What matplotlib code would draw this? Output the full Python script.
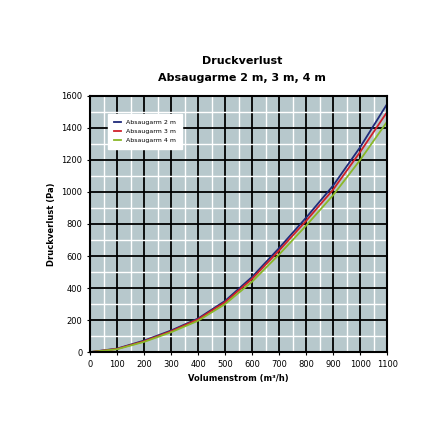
import matplotlib
matplotlib.use("Agg")
import matplotlib.pyplot as plt
from matplotlib.ticker import MultipleLocator

flow = [0, 100, 200, 300, 400, 500, 600, 700, 800, 900, 1000, 1100]
arm_2m = [0, 22, 72, 135, 210, 320, 470, 650, 840, 1040, 1280, 1550]
arm_3m = [0, 20, 68, 130, 205, 312, 458, 635, 820, 1015, 1250, 1500]
arm_4m = [0, 18, 64, 124, 196, 300, 440, 610, 790, 980, 1200, 1440]

fig = plt.figure(figsize=(4.44, 4.44), dpi=100)
ax = fig.add_axes([0.203, 0.207, 0.669, 0.577])
ax.set_facecolor("#b7c8cc")

ax.plot(flow, arm_2m, color="#1f2a7a", lw=1.3, label="Absaugarm 2 m")
ax.plot(flow, arm_3m, color="#d0202a", lw=1.3, label="Absaugarm 3 m")
ax.plot(flow, arm_4m, color="#8ab828", lw=1.3, label="Absaugarm 4 m")

ax.set_xlim(0, 1100)
ax.set_ylim(0, 1600)
ax.xaxis.set_major_locator(MultipleLocator(100))
ax.xaxis.set_minor_locator(MultipleLocator(50))
ax.yaxis.set_major_locator(MultipleLocator(200))
ax.yaxis.set_minor_locator(MultipleLocator(100))
ax.grid(True, which="minor", color="white", lw=1.0)
ax.grid(True, which="major", color="black", lw=1.3)
ax.set_axisbelow(True)
for s in ax.spines.values():
    s.set_linewidth(1.5)
ax.tick_params(labelsize=6, length=2)
ax.tick_params(which="minor", length=0)

ax.set_xlabel("Volumenstrom (m³/h)", fontsize=6, fontweight="bold")
ax.set_ylabel("Druckverlust (Pa)", fontsize=6, fontweight="bold")
fig.text(0.545, 0.855, "Druckverlust", ha="center", fontsize=8, fontweight="bold")
fig.text(0.545, 0.818, "Absaugarme 2 m, 3 m, 4 m", ha="center", fontsize=8, fontweight="bold")

leg = ax.legend(loc="upper left", bbox_to_anchor=(0.06, 0.93), fontsize=4.5,
                frameon=True, fancybox=False, edgecolor="white", handlelength=1.2,
                borderpad=0.9, labelspacing=0.6, borderaxespad=0)
leg.get_frame().set_facecolor("white")
leg.get_frame().set_alpha(1)
# widen legend box to match the reference
leg._legend_box.sep = 2
fig.canvas.draw()
bb = leg.get_frame().get_bbox()
leg.get_frame().set_width(bb.width * 1.45)

fig.savefig("out.png", dpi=100)
